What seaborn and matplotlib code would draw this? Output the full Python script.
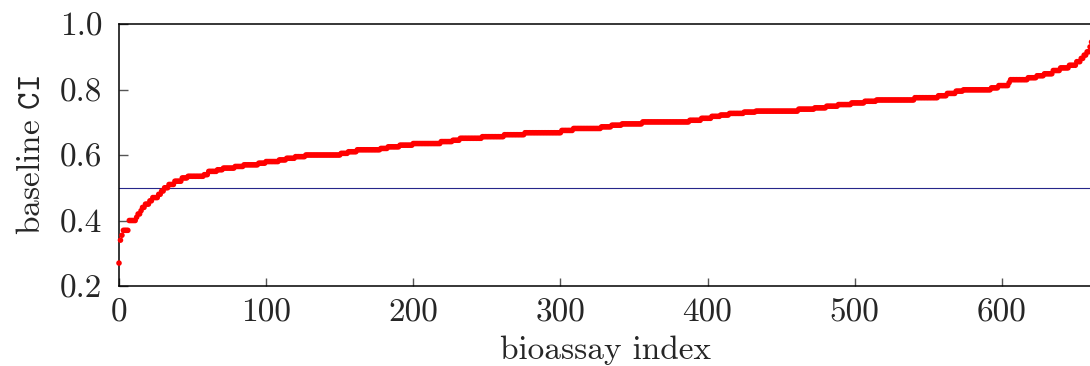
import numpy as np
import pandas as pd
import matplotlib
matplotlib.use("Agg")
import matplotlib.pyplot as plt
import seaborn as sns

# Baseline CI levels (sorted) and how many bioassays sit at each level
ci_levels = [
    0.27, 0.34, 0.355, 0.37, 0.40, 0.41, 0.42, 0.43, 0.44, 0.45,
    0.46, 0.47, 0.48, 0.49, 0.50, 0.51, 0.52, 0.53, 0.535, 0.54,
    0.55, 0.555, 0.56, 0.565, 0.57, 0.575, 0.58, 0.585, 0.59, 0.595,
    0.60, 0.605, 0.61, 0.616, 0.62, 0.625, 0.63, 0.635, 0.641, 0.645,
    0.651, 0.656, 0.662, 0.668, 0.675, 0.681, 0.686, 0.691, 0.695, 0.701,
    0.706, 0.712, 0.718, 0.722, 0.727, 0.731, 0.734, 0.740, 0.744, 0.749,
    0.754, 0.759, 0.764, 0.768, 0.775, 0.781, 0.788, 0.795, 0.799, 0.805,
    0.812, 0.821, 0.830, 0.836, 0.842, 0.848, 0.858, 0.866, 0.874, 0.885,
    0.895, 0.905, 0.915, 0.93, 0.945,
]
ci_counts = [
    1, 1, 1, 4, 5, 1, 2, 1, 2, 3,
    2, 4, 2, 2, 3, 4, 5, 4, 11, 3,
    6, 4, 8, 6, 10, 5, 9, 5, 6, 7,
    24, 5, 6, 16, 5, 8, 9, 19, 8, 5,
    15, 15, 14, 25, 8, 19, 7, 7, 14, 32,
    8, 7, 6, 6, 10, 8, 29, 11, 8, 8,
    9, 9, 8, 26, 16, 6, 6, 5, 19, 5,
    7, 1, 12, 6, 5, 6, 5, 6, 5, 3,
    2, 2, 2, 1, 1,
]

x_ticks = [0, 100, 200, 300, 400, 500, 600]
y_ticks = [0.2, 0.4, 0.6, 0.8, 1.0]
threshold = 0.5

baseline_ci = np.repeat(ci_levels, ci_counts)
df = pd.DataFrame({"index": np.arange(len(baseline_ci)), "ci": baseline_ci})

sns.set_style("ticks")
plt.rcParams["font.family"] = ["cmr10", "DejaVu Serif"]
plt.rcParams["mathtext.fontset"] = "cm"
plt.rcParams["axes.formatter.use_mathtext"] = True
plt.rcParams["axes.unicode_minus"] = False

fig = plt.figure(figsize=(10.9, 3.66), dpi=100)
ax = fig.add_axes([119 / 1090, 80 / 366, (1093 - 119) / 1090, 262 / 366])

ax.axhline(threshold, color="#26268a", lw=0.8, zorder=1)
sns.scatterplot(data=df, x="index", y="ci", ax=ax, color="#ff0000",
                s=16, linewidth=0, edgecolor="none", zorder=3, clip_on=False)

ax.set_xlim(0, 662)
ax.set_ylim(0.2, 1.0)
ax.set_xticks(x_ticks)
ax.set_yticks(y_ticks)
ax.set_xticklabels([str(t) for t in x_ticks])
ax.set_yticklabels([f"{t:.1f}" for t in y_ticks])

ax.set_xlabel("bioassay index", fontsize=24, labelpad=6)
ax.set_ylabel(r"baseline $\mathtt{CI}$", fontsize=24, labelpad=10)

ax.tick_params(axis="both", direction="in", labelsize=24, width=1.0,
               color="#555555", top=False, right=False)
ax.tick_params(axis="x", length=6, pad=9)
ax.tick_params(axis="y", length=6.5, pad=12)

for side in ("left", "bottom", "top", "right"):
    ax.spines[side].set_visible(True)
    ax.spines[side].set_linewidth(1.1)
    ax.spines[side].set_color("black")

fig.savefig("out.png", dpi=100)
